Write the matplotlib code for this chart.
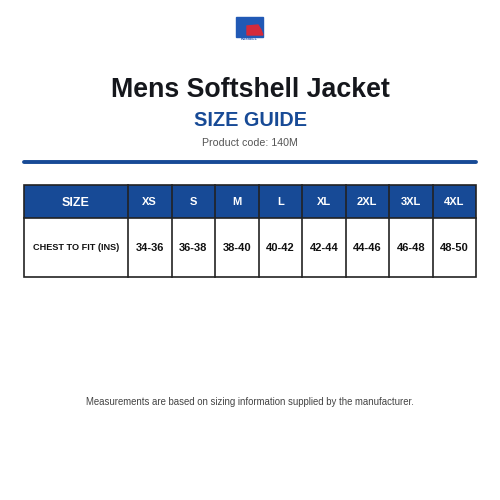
import matplotlib
matplotlib.use("Agg")
import matplotlib.pyplot as plt
from matplotlib.patches import Rectangle, Polygon

title = "Mens Softshell Jacket"
subtitle = "SIZE GUIDE"
code = "Product code: 140M"
sizes = ["XS", "S", "M", "L", "XL", "2XL", "3XL", "4XL"]
chest = ["34-36", "36-38", "38-40", "40-42", "42-44", "44-46", "46-48", "48-50"]
row_label = "CHEST TO FIT (INS)"
footer = "Measurements are based on sizing information supplied by the manufacturer."

BLUE = "#174a96"
plt.rcParams['font.family'] = ['Liberation Sans', 'DejaVu Sans']
fig = plt.figure(figsize=(5, 5), dpi=100)
ax = fig.add_axes([0, 0, 1, 1])
ax.set_xlim(0, 500); ax.set_ylim(500, 0); ax.axis("off")

# logo
ax.add_patch(Rectangle((236, 17), 27, 20, color="#2159b5"))
ax.add_patch(Polygon([[247, 26], [258, 25], [261, 30], [263, 35], [247, 35]], color="#d42a3a"))
ax.text(249.5, 39, "RUSSELL", ha="center", va="center", fontsize=2.6, weight="bold", color="#2159b5")

ax.text(250, 90, title, ha="center", va="center", fontsize=19.3, weight="bold", color="#15171c")
ax.text(250, 121, subtitle, ha="center", va="center", fontsize=14.3, weight="bold", color=BLUE)
ax.text(250, 143, code, ha="center", va="center", fontsize=7.7, color="#555555")
ax.plot([24, 476], [162, 162], color=BLUE, lw=2.8, solid_capstyle="round")

x0, x1, w = 24, 128, 43.5
y0, y1, y2 = 185, 218, 277
ax.add_patch(Rectangle((x0, y0), 452, y1 - y0, facecolor=BLUE, edgecolor="none"))
ax.add_patch(Rectangle((x0, y0), 452, y2 - y0, facecolor="none", edgecolor="#222222", lw=1.2))
ax.plot([x0, 476], [y1, y1], color="#222222", lw=1.2)
ax.plot([x1, x1], [y0, y2], color="#222222", lw=1.2)
for i in range(1, 8):
    ax.plot([x1 + i * w] * 2, [y0, y2], color="#222222", lw=1.2)
ax.text((x0 + x1) / 2, 203, "SIZE", ha="center", va="center", fontsize=9, weight="bold", color="white")
ax.text((x0 + x1) / 2, 248, row_label, ha="center", va="center", fontsize=6.6, weight="bold", color="#111111")
for i, (s, c) in enumerate(zip(sizes, chest)):
    cx = x1 + (i + 0.5) * w
    ax.text(cx, 202, s, ha="center", va="center", fontsize=8, weight="bold", color="white")
    ax.text(cx, 248, c, ha="center", va="center", fontsize=8, weight="bold", color="#111111")

ax.text(250, 402, footer, ha="center", va="center", fontsize=6.9, color="#444444")
fig.savefig("out.png", dpi=100)
